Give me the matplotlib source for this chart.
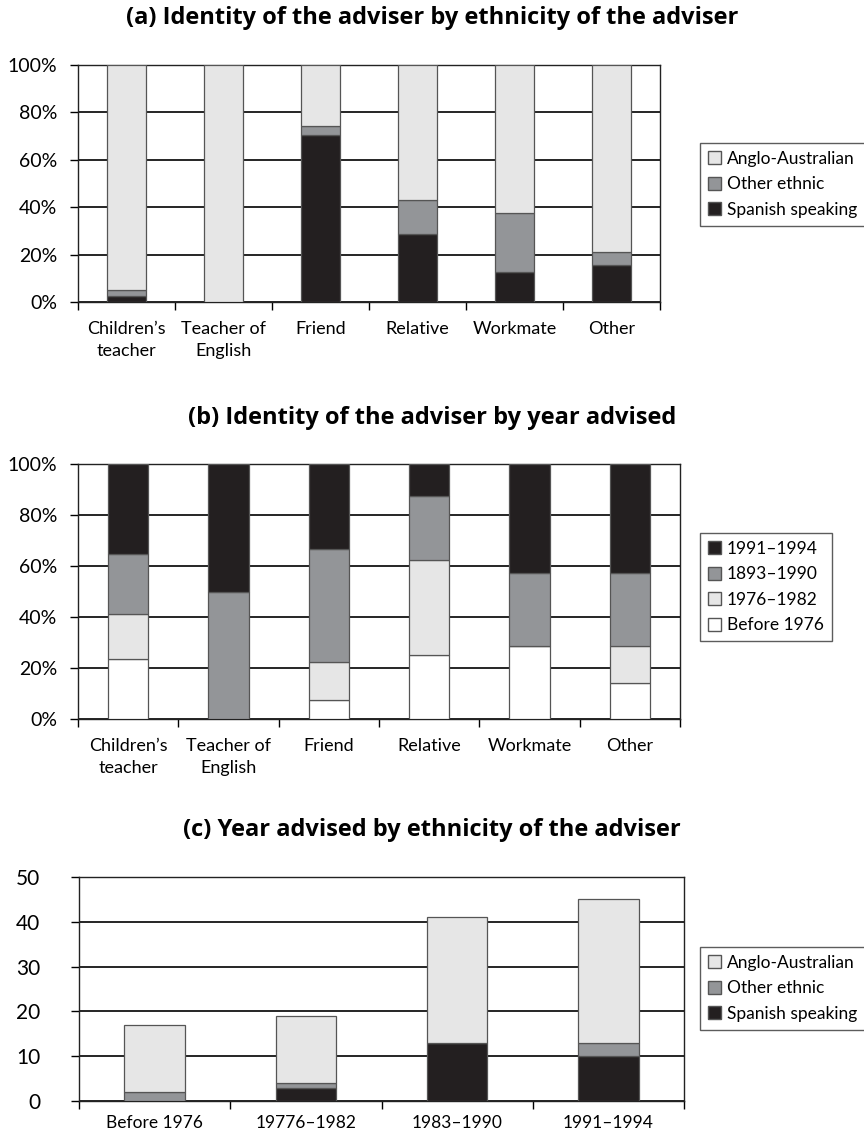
import numpy as np
import matplotlib
matplotlib.use("Agg")
import matplotlib.pyplot as plt
from matplotlib.patches import Patch

plt.rcParams['font.family'] = ['Lato', 'DejaVu Sans']

# (a) adviser identity by ethnicity (%)
advisers = ["Children\u2019s\nteacher", "Teacher of\nEnglish", "Friend", "Relative", "Workmate", "Other"]
a_spanish = [2.5, 0, 70.4, 28.6, 12.5, 15.8]
a_other = [2.5, 0, 3.7, 14.3, 25.0, 5.3]
a_anglo = [95.0, 100, 25.9, 57.1, 62.5, 78.9]

# (b) adviser identity by year advised (%)
b_before76 = [23.5, 0, 7.4, 25.0, 28.6, 14.3]
b_76_82 = [17.6, 0, 14.8, 37.5, 0, 14.3]
b_83_90 = [23.5, 50.0, 44.4, 25.0, 28.6, 28.6]
b_91_94 = [35.3, 50.0, 33.3, 12.5, 42.9, 42.9]

# (c) year advised by ethnicity (counts)
periods = ["Before 1976", "19776\u20131982", "1983\u20131990", "1991\u20131994"]
c_spanish = [0, 3, 13, 10]
c_other = [2, 1, 0, 3]
c_anglo = [15, 15, 28, 32]

c_light = '#e6e6e6'
c_mid = '#939598'
c_dark = '#231f20'
c_white = '#ffffff'
edge = '#555555'

fig = plt.figure(figsize=(8.64, 11.36), dpi=100)


def style_axes(ax, n, ylim, yticks, ylabels, lab_size=13, ytick_size=14, ypad=9):
    ax.set_xlim(-0.5, n - 0.5)
    ax.set_ylim(*ylim)
    ax.set_yticks(yticks)
    ax.set_yticklabels(ylabels, fontsize=ytick_size)
    ax.yaxis.grid(True, color='black', linewidth=1.2)
    ax.set_axisbelow(True)
    ax.set_xticks(np.arange(n))
    ax.set_xticks(np.arange(n + 1) - 0.5, minor=True)
    ax.tick_params(axis='x', which='major', length=0, pad=14, labelsize=lab_size)
    ax.tick_params(axis='x', which='minor', length=6, direction='out', width=1)
    ax.tick_params(axis='y', length=6, direction='out', width=1, pad=ypad)
    for s in ax.spines.values():
        s.set_color('#222222')
        s.set_linewidth(1)


def add_legend(ax, handles, x, y):
    leg = ax.legend(handles=handles, loc='upper left', bbox_to_anchor=(x / 864, 1 - y / 1136),
                    bbox_transform=fig.transFigure, fontsize=12.5, frameon=True, fancybox=False,
                    handlelength=0.75, handleheight=0.75, handletextpad=0.35, labelspacing=0.55,
                    borderpad=0.45, borderaxespad=0)
    leg.get_frame().set_edgecolor('#333333')
    leg.get_frame().set_linewidth(1)


def title(y, s):
    fig.text(0.5, 1 - y / 1136, s, ha='center', va='center', fontsize=17,
             fontweight='bold', family=['Open Sans', 'DejaVu Sans'])


w = 0.4
bar_kw = dict(width=w, edgecolor=edge, linewidth=0.9, zorder=3)

# ---- (a)
ax1 = fig.add_axes([78 / 864, 1 - 302 / 1136, 582 / 864, 237 / 1136])
x = np.arange(len(advisers))
ax1.bar(x, a_spanish, color=c_dark, **bar_kw)
ax1.bar(x, a_other, bottom=a_spanish, color=c_mid, **bar_kw)
ax1.bar(x, a_anglo, bottom=np.add(a_spanish, a_other), color=c_light, **bar_kw)
style_axes(ax1, len(advisers), (0, 100), range(0, 101, 20), [f"{v}%" for v in range(0, 101, 20)])
ax1.set_xticklabels(advisers, linespacing=1.45)
title(18, "(a) Identity of the adviser by ethnicity of the adviser")
add_legend(ax1, [Patch(facecolor=c_light, edgecolor=edge, label='Anglo-Australian'),
                 Patch(facecolor=c_mid, edgecolor=edge, label='Other ethnic'),
                 Patch(facecolor=c_dark, edgecolor=edge, label='Spanish speaking')], 700, 143)

# ---- (b)
ax2 = fig.add_axes([78 / 864, 1 - 719 / 1136, 602 / 864, 255 / 1136])
b1 = np.array(b_before76)
b2 = b1 + np.array(b_76_82)
b3 = b2 + np.array(b_83_90)
ax2.bar(x, b_before76, color=c_white, **bar_kw)
ax2.bar(x, b_76_82, bottom=b1, color=c_light, **bar_kw)
ax2.bar(x, b_83_90, bottom=b2, color=c_mid, **bar_kw)
ax2.bar(x, b_91_94, bottom=b3, color=c_dark, **bar_kw)
style_axes(ax2, len(advisers), (0, 100), range(0, 101, 20), [f"{v}%" for v in range(0, 101, 20)])
ax2.set_xticklabels(advisers, linespacing=1.45)
title(418, "(b) Identity of the adviser by year advised")
add_legend(ax2, [Patch(facecolor=c_dark, edgecolor=edge, label='1991\u20131994'),
                 Patch(facecolor=c_mid, edgecolor=edge, label='1893\u20131990'),
                 Patch(facecolor=c_light, edgecolor=edge, label='1976\u20131982'),
                 Patch(facecolor=c_white, edgecolor=edge, label='Before 1976')], 700, 533)

# ---- (c)
ax3 = fig.add_axes([79 / 864, 1 - 1101 / 1136, 605 / 864, 224 / 1136])
xc = np.arange(len(periods))
ax3.bar(xc, c_spanish, color=c_dark, **bar_kw)
ax3.bar(xc, c_other, bottom=c_spanish, color=c_mid, **bar_kw)
ax3.bar(xc, c_anglo, bottom=np.add(c_spanish, c_other), color=c_light, **bar_kw)
style_axes(ax3, len(periods), (0, 50), range(0, 51, 10), [str(v) for v in range(0, 51, 10)],
           lab_size=12.5, ytick_size=15, ypad=22)
ax3.set_xticklabels(periods)
ax3.tick_params(axis='x', which='major', pad=10)
title(830, "(c) Year advised by ethnicity of the adviser")
add_legend(ax3, [Patch(facecolor=c_light, edgecolor=edge, label='Anglo-Australian'),
                 Patch(facecolor=c_mid, edgecolor=edge, label='Other ethnic'),
                 Patch(facecolor=c_dark, edgecolor=edge, label='Spanish speaking')], 700, 947)

fig.savefig("out.png", dpi=100)
